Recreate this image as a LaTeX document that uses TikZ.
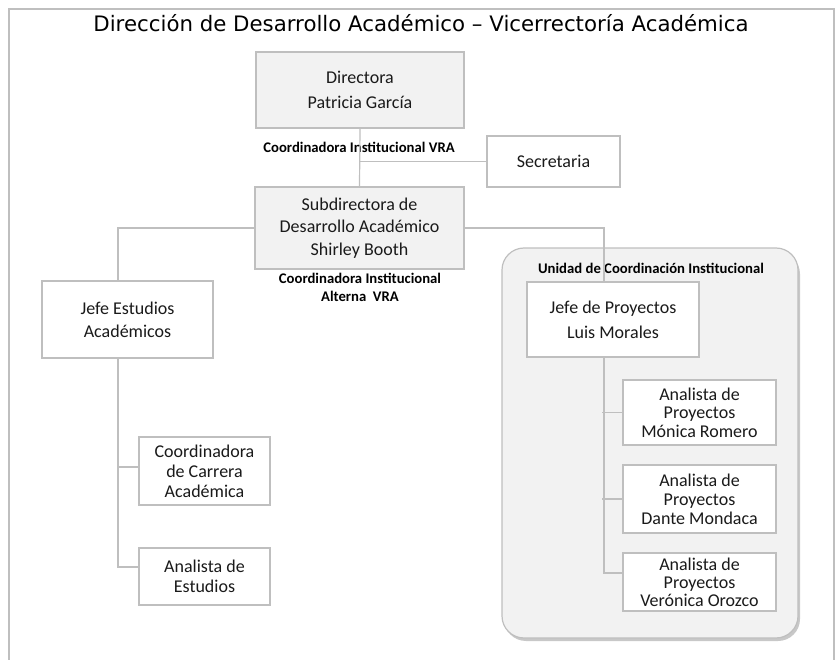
\documentclass[tikz,border=0pt]{standalone}
\usepackage{fontspec}
\setmainfont{Carlito}
\newfontfamily\titlefont{DejaVu Sans}
\usetikzlibrary{calc}
\definecolor{boxline}{HTML}{BFBFBF}
\definecolor{boxfill}{HTML}{F2F2F2}
\definecolor{txt}{HTML}{1A1A1A}
\definecolor{shadowc}{HTML}{C8C8C8}
\begin{document}
\begin{tikzpicture}[x=1pt,y=-1pt,
  orgbox/.style={draw=boxline, line width=1.2pt, fill=white, rectangle, inner sep=0pt, align=center, text=txt},
  graybox/.style={orgbox, fill=boxfill},
  conn/.style={draw=boxline, line width=1.2pt},
  lbl/.style={font=\bfseries\fontsize{14.7}{18}\selectfont, align=center, text=black, inner sep=0pt}]
\useasboundingbox (0,0) rectangle (836,660);
% frame
\draw[draw=boxline, line width=1.6pt] (9,670) -- (9,9) -- (834,9) -- (834,670);
% title
\node[anchor=base, font=\titlefont\fontsize{21.3}{25}\selectfont, text=black, inner sep=0pt] (title) at (421,32) {Dirección de Desarrollo Académico – Vicerrectoría Académica};
% group
\fill[shadowc, rounded corners=22pt] (504,252) rectangle (800,641);
\node[draw=boxline, line width=1.2pt, fill=boxfill, rounded corners=22pt, minimum width=296pt, minimum height=390pt, inner sep=0pt] (grp) at (650,443) {};
\node[lbl] (grplbl) at (651,268) {Unidad de Coordinación Institucional};
% boxes
\node[graybox, minimum width=208pt, minimum height=76pt, font=\fontsize{18}{25}\selectfont] (dir) at (360,90) {Directora\\Patricia García};
\node[orgbox, minimum width=133pt, minimum height=51pt, font=\fontsize{18}{19}\selectfont] (sec) at (553.5,161.5) {Secretaria};
\node[graybox, minimum width=209pt, minimum height=82pt, font=\fontsize{18}{22.5}\selectfont] (sub) at (359.5,228) {Subdirectora de\\Desarrollo Académico\\Shirley Booth};
\node[orgbox, minimum width=171pt, minimum height=77pt, font=\fontsize{18}{23}\selectfont] (je) at (127.5,319.5) {Jefe Estudios\\Académicos};
\node[orgbox, minimum width=172pt, minimum height=75pt, font=\fontsize{18}{25}\selectfont] (jp) at (613,319.5) {Jefe de Proyectos\\Luis Morales};
\node[orgbox, minimum width=131pt, minimum height=68pt, font=\fontsize{18}{20}\selectfont] (cc) at (204.5,471) {Coordinadora\\de Carrera\\Académica};
\node[orgbox, minimum width=131pt, minimum height=57pt, font=\fontsize{18}{20}\selectfont] (ae) at (204.5,576.5) {Analista de\\Estudios};
\node[orgbox, minimum width=153pt, minimum height=65pt, font=\fontsize{18}{18.5}\selectfont] (a1) at (699.5,412.5) {Analista de\\Proyectos\\Mónica Romero};
\node[orgbox, minimum width=153pt, minimum height=68pt, font=\fontsize{18}{19}\selectfont] (a2) at (699.5,499) {Analista de\\Proyectos\\Dante Mondaca};
\node[orgbox, minimum width=153pt, minimum height=58pt, font=\fontsize{18}{18}\selectfont] (a3) at (699.5,582) {Analista de\\Proyectos\\Verónica Orozco};
% labels
\node[lbl] (l1) at (359,147) {Coordinadora Institucional VRA};
\node[lbl] (l2) at (360,287) {Coordinadora Institucional\\Alterna\ \ VRA};
% connectors
\draw[conn] (dir.south) -- (sub.north);
\draw[conn] (sec.west) -- (sec.west -| dir.south);
\draw[conn] (sub.west) -| ([xshift=-9.5pt]je.north);
\draw[conn] (sub.east) -| ([xshift=-9pt]jp.north);
\coordinate (lt) at ([xshift=-9.5pt]je.south);
\draw[conn] (lt) |- ([yshift=9.5pt]ae.west);
\draw[conn] ([yshift=4pt]cc.west) -- ++(-21pt,0);
\coordinate (rt) at ([xshift=-9pt]jp.south);
\draw[conn] (rt) |- ([yshift=9pt]a3.west);
\draw[conn] (a1.west) -- ++(-20pt,0);
\draw[conn] (a2.west) -- ++(-20pt,0);
\end{tikzpicture}
\end{document}
